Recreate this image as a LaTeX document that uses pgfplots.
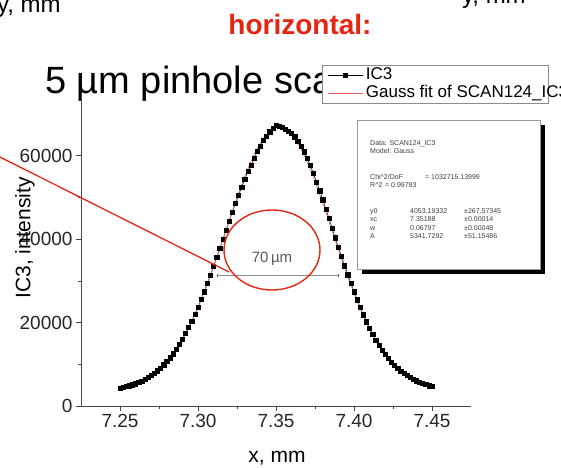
\documentclass[border=0pt]{standalone}
\usepackage{pgfplots}
\pgfplotsset{compat=1.18}
\usepackage{fontspec}
\setmainfont{Liberation Sans}
\definecolor{myred}{RGB}{228,38,18}
\definecolor{fitred}{RGB}{235,95,95}
\definecolor{axgray}{RGB}{70,70,70}
\begin{document}
\begin{tikzpicture}[x=1pt,y=1pt]
\path[use as bounding box] (0,0) rectangle (561,467);
\clip (0,0) rectangle (561,467);
% top texts
\node[anchor=base west, inner sep=0, font=\fontsize{24}{24}\selectfont] at (-3,454) {y, mm};
\node[anchor=base west, inner sep=0, font=\fontsize{24}{24}\selectfont] at (462,463) {y, mm};
\node[anchor=base, inner sep=0, text=myred, font=\fontsize{28}{28}\selectfont\bfseries] at (300,432) {horizontal:};
\node[anchor=base west, inner sep=0, font=\fontsize{38}{38}\selectfont] at (45,374) {5 µm pinhole scan};
% legend box
\filldraw[fill=white, draw=black!45, line width=0.6pt] (322,402) rectangle (548,364);
\begin{axis}[
  at={(81pt,61pt)}, anchor=south west, scale only axis,
  width=390pt, height=313pt,
  xmin=7.225, xmax=7.475, ymin=0, ymax=75000,
  axis x line*=bottom, axis y line*=left,
  axis line style={axgray, line width=0.7pt, -},
  xtick={7.25,7.30,7.35,7.40,7.45}, minor x tick num=1,
  ytick={0,20000,40000,60000}, minor y tick num=1,
  tick align=outside, major tick length=5pt, minor tick length=3pt,
  every tick/.style={axgray, line width=0.6pt},
  /pgf/number format/assume math mode=true,
  scaled y ticks=false,
  xticklabel style={font=\fontsize{19}{19}\selectfont, text=black!85, /pgf/number format/.cd, fixed, fixed zerofill, precision=2},
  yticklabel style={font=\fontsize{19}{19}\selectfont, text=black!85, /pgf/number format/1000 sep={}},
  xlabel={x, mm}, ylabel={IC3, intensity},
  every axis x label/.style={at={(axis description cs:0.5026,-0.179)}, anchor=base, font=\fontsize{21}{21}\selectfont},
  every axis y label/.style={at={(axis description cs:-0.1436,0.537)}, rotate=90, anchor=center, font=\fontsize{21}{21}\selectfont},
  legend style={draw=none, fill=none, inner sep=0pt, anchor=north west,
    at={(axis description cs:0.631,1.086)}, font=\fontsize{17}{17}\selectfont,
    nodes={inner sep=1pt, text height=12pt, text depth=4pt}, column sep=2pt},
  legend cell align=left,
  clip=false,
]
\addplot[black, line width=0.5pt, mark=square*, mark size=2.1pt, mark options={solid, fill=black},
  legend image code/.code={\draw[mark repeat=2,mark phase=2] plot coordinates {(0pt,0pt) (17.5pt,0pt) (35pt,0pt)};}]
coordinates {
(7.250,4350)(7.252,4480)(7.254,4650)(7.256,4850)(7.258,5080)(7.260,5350)(7.262,5650)(7.264,5990)(7.266,6380)(7.268,6820)
(7.270,7300)(7.272,7850)(7.274,8460)(7.276,9130)(7.278,9870)(7.280,10680)(7.282,11570)(7.284,12540)(7.286,13600)(7.288,14750)
(7.290,16000)(7.292,17350)(7.294,18800)(7.296,20350)(7.298,21950)(7.300,23700)(7.302,25500)(7.304,27400)(7.306,29350)(7.308,31400)
(7.310,33450)(7.312,35600)(7.314,37750)(7.316,39900)(7.318,42100)(7.320,44300)(7.322,46450)(7.324,48500)(7.326,50500)(7.328,52500)
(7.330,54300)(7.332,56300)(7.334,57700)(7.336,59300)(7.338,61000)(7.340,62300)(7.342,63700)(7.344,64700)(7.346,65700)(7.348,66500)
(7.350,67300)(7.352,67000)(7.354,66700)(7.356,66300)(7.358,65900)(7.360,65300)(7.362,64500)(7.364,63500)(7.366,62300)(7.368,60900)
(7.370,59300)(7.372,57600)(7.374,55700)(7.376,53700)(7.378,51600)(7.380,49400)(7.382,47200)(7.384,44900)(7.386,42600)(7.388,40300)
(7.390,38000)(7.392,35800)(7.394,33600)(7.396,31450)(7.398,29400)(7.400,27400)(7.402,25450)(7.404,23600)(7.406,21850)(7.408,20200)
(7.410,18650)(7.412,17200)(7.414,15850)(7.416,14600)(7.418,13450)(7.420,12400)(7.422,11450)(7.424,10550)(7.426,9750)(7.428,9030)
(7.430,8380)(7.432,7800)(7.434,7280)(7.436,6810)(7.438,6400)(7.440,6030)(7.442,5700)(7.444,5400)(7.446,5120)(7.448,4870)(7.450,4640)
};
\addlegendentry{IC3}
\addplot[fitred, line width=0.6pt, mark=none,
  legend image code/.code={\draw (0pt,0pt) -- (35pt,0pt);}]
coordinates {
(7.250,4754)(7.252,4888)(7.254,5044)(7.256,5225)(7.258,5434)(7.260,5675)(7.262,5952)(7.264,6268)(7.266,6628)(7.268,7035)
(7.270,7496)(7.272,8012)(7.274,8592)(7.276,9239)(7.278,9957)(7.280,10749)(7.282,11624)(7.284,12584)(7.286,13631)(7.288,14770)
(7.290,16002)(7.292,17331)(7.294,18757)(7.296,20279)(7.298,21897)(7.300,23609)(7.302,25409)(7.304,27296)(7.306,29260)(7.308,31300)
(7.310,33399)(7.312,35552)(7.314,37745)(7.316,39968)(7.318,42205)(7.320,44438)(7.322,46658)(7.324,48843)(7.326,50973)(7.328,53040)
(7.330,55024)(7.332,56898)(7.334,58655)(7.336,60272)(7.338,61741)(7.340,63043)(7.342,64164)(7.344,65096)(7.346,65827)(7.348,66351)
(7.350,66663)(7.352,66759)(7.354,66637)(7.356,66300)(7.358,65750)(7.360,64994)(7.362,64040)(7.364,62896)(7.366,61574)(7.368,60087)
(7.370,58450)(7.372,56679)(7.374,54789)(7.376,52799)(7.378,50724)(7.380,48584)(7.382,46393)(7.384,44172)(7.386,41934)(7.388,39699)
(7.390,37479)(7.392,35292)(7.394,33144)(7.396,31050)(7.398,29021)(7.400,27065)(7.402,25189)(7.404,23398)(7.406,21699)(7.408,20092)
(7.410,18582)(7.412,17168)(7.414,15851)(7.416,14630)(7.418,13502)(7.420,12464)(7.422,11516)(7.424,10651)(7.426,9866)(7.428,9157)
(7.430,8519)(7.432,7947)(7.434,7438)(7.436,6984)(7.438,6582)(7.440,6228)(7.442,5917)(7.444,5644)(7.446,5407)(7.448,5202)(7.450,5024)
};
\addlegendentry{Gauss fit of SCAN124\_IC3}
\end{axis}
% FWHM annotation
\draw[black!45, line width=0.8pt] (217,192) -- (338,192);
\draw[black!60, line width=0.8pt] (217,190.5) -- (217,193.5) (338,190.5) -- (338,193.5);
\node[anchor=base, inner sep=0, text=black!65, font=\fontsize{15}{15}\selectfont] at (272,205) {70\,µm};
\draw[myred, line width=1.4pt] (272,217) ellipse [x radius=48, y radius=40];
\draw[myred, line width=1.3pt] (-10,315) -- (229,195);
% fit results box
\fill[black] (362,342) rectangle (545,193);
\filldraw[fill=white, draw=black!40, line width=0.5pt] (357,347) rectangle (540,198);
\begin{scope}[every node/.style={anchor=base west, inner sep=0, text=black!75, font=\fontsize{7}{7}\selectfont}]
\node at (370,322) {Data: SCAN124\_IC3};
\node at (370,313.5) {Model: Gauss};
\node at (370,288) {Chi\textasciicircum 2/DoF};
\node at (425,288) {= 1032715.13999};
\node at (370,279.5) {R\textasciicircum 2};
\node at (385,279.5) {= 0.99793};
\node at (370,254) {y0}; \node at (410,254) {4053.19332}; \node at (464,254) {±267.57345};
\node at (370,245.5) {xc}; \node at (410,245.5) {7.35188}; \node at (464,245.5) {±0.00014};
\node at (370,237) {w}; \node at (410,237) {0.06797}; \node at (464,237) {±0.00048};
\node at (370,228.5) {A}; \node at (410,228.5) {5341.7292}; \node at (464,228.5) {±51.15486};
\end{scope}
\end{tikzpicture}
\end{document}
